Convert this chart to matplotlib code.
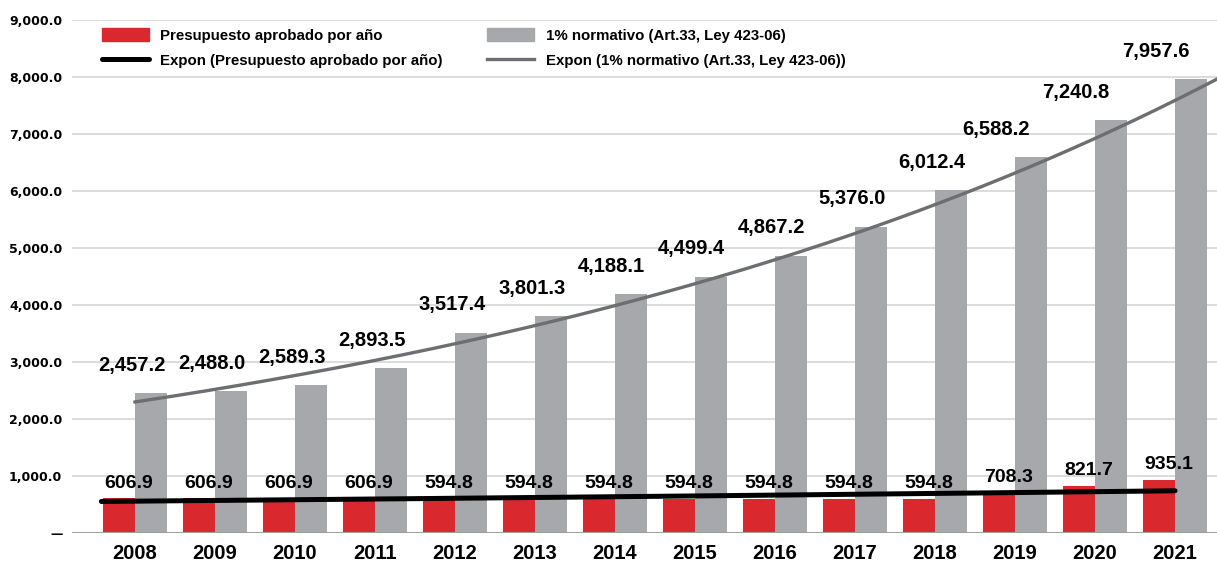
import numpy as np
import matplotlib
matplotlib.use('Agg')
import matplotlib.pyplot as plt
from matplotlib.patches import Patch
from matplotlib.lines import Line2D
from matplotlib.ticker import FuncFormatter

plt.rcParams['font.family'] = ['Liberation Sans', 'DejaVu Sans']

# data to plot
years = ['2008', '2009', '2010', '2011', '2012', '2013', '2014',
         '2015', '2016', '2017', '2018', '2019', '2020', '2021']
aprobado = [606.9, 606.9, 606.9, 606.9, 594.8, 594.8, 594.8,
            594.8, 594.8, 594.8, 594.8, 708.3, 821.7, 935.1]
normativo = [2457.2, 2488.0, 2589.3, 2893.5, 3517.4, 3801.3, 4188.1,
             4499.4, 4867.2, 5376.0, 6012.4, 6588.2, 7240.8, 7957.6]

red = '#d9292e'
gray = '#a7a8ac'
line_gray = '#6d6e71'

fig = plt.figure(figsize=(12.17, 5.62), dpi=100)
ax = fig.add_axes([72 / 1217, 29 / 562, 1 - 72 / 1217, 513 / 562])

index = np.arange(len(years))
bar_width = 0.4

ax.bar(index - bar_width / 2, aprobado, bar_width, color=red, zorder=2)
ax.bar(index + bar_width / 2, normativo, bar_width, color=gray, zorder=2)

# exponential trendlines (Excel style), fitted from the data
b1, a1 = np.polyfit(index, np.log(aprobado), 1)
b2, a2 = np.polyfit(index, np.log(normativo), 1)
t = np.linspace(0, len(years) - 1, 200)
ax.plot(np.linspace(-0.42, 13.0, 200), np.exp(a1 + b1 * t), color='black',
        lw=3.6, solid_capstyle='round', zorder=4)
ax.plot(np.linspace(0, 13.525, 200), np.exp(a2 + b2 * t), color=line_gray,
        lw=2.4, zorder=4)

# value labels
for i in index:
    dx = -0.24 if i >= 11 else -0.04
    ax.annotate(f'{normativo[i]:,.1f}', (i + dx, normativo[i]), xytext=(0, 20),
                textcoords='offset points', ha='center', va='center',
                fontsize=14.5, fontweight='bold', zorder=5)
    ax.annotate(f'{aprobado[i]:,.1f}', (i - 0.08, aprobado[i]), xytext=(0, 11),
                textcoords='offset points', ha='center', va='center',
                fontsize=14, fontweight='bold', zorder=5)

ax.set_xlim(-0.7875, 13.525)
ax.set_ylim(0, 9000)
ax.set_yticks(np.arange(0, 9001, 1000))
ax.yaxis.set_major_formatter(FuncFormatter(
    lambda v, p: '\u2014' if v == 0 else f'{v:,.1f}'))
ax.set_xticks(index)
ax.set_xticklabels(years)
ax.tick_params(axis='y', length=0, pad=7)
ax.tick_params(axis='x', length=0, pad=8)
for lbl in ax.get_xticklabels():
    lbl.set_fontweight('bold')
    lbl.set_fontsize(14.5)
for lbl in ax.get_yticklabels():
    lbl.set_fontweight('bold')
    lbl.set_fontsize(9)
    lbl.set_family('DejaVu Sans')

ax.grid(axis='y', color='#d9d9d9', lw=1.3, zorder=0)
ax.set_axisbelow(True)
for s in ax.spines.values():
    s.set_visible(False)
ax.axhline(0, color='#a0a0a2', lw=2.2, zorder=3)

leg_font = {'family': ['Liberation Sans', 'DejaVu Sans'],
            'weight': 'bold', 'size': 10.8}
h1 = [Patch(color=red), Line2D([], [], color='black', lw=3.6, solid_capstyle='round')]
h2 = [Patch(color=gray), Line2D([], [], color=line_gray, lw=2.4)]
common = dict(loc='upper left', frameon=False, prop=leg_font, handlelength=3.1,
              handleheight=1.0, handletextpad=0.8, labelspacing=0.7,
              borderpad=0, borderaxespad=0)
fig.legend(h1, ['Presupuesto aprobado por año',
                'Expon (Presupuesto aprobado por año)'],
           bbox_to_anchor=(102 / 1217, 1 - 28 / 562), **common)
fig.legend(h2, ['1% normativo (Art.33, Ley 423-06)',
                'Expon (1% normativo (Art.33, Ley 423-06))'],
           bbox_to_anchor=(487 / 1217, 1 - 28 / 562), **common)

fig.savefig('out.png', dpi=100)
